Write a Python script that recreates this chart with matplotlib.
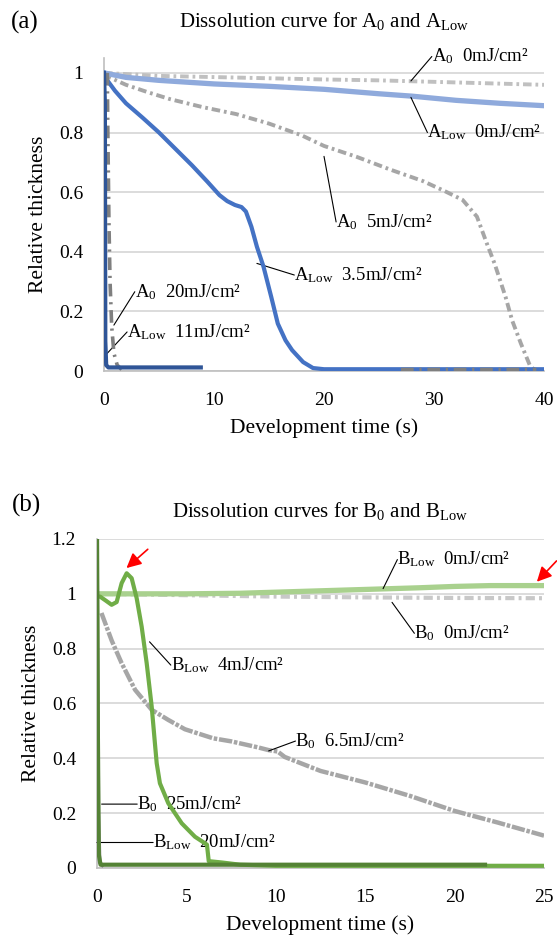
import numpy as np
import matplotlib
matplotlib.use('Agg')
from matplotlib import pyplot as plt

plt.rcParams['font.family'] = ['Liberation Serif', 'DejaVu Serif']
plt.rcParams['mathtext.fontset'] = 'custom'
plt.rcParams['mathtext.rm'] = 'Liberation Serif'
plt.rcParams['mathtext.it'] = 'Liberation Serif:italic'
plt.rcParams['mathtext.bf'] = 'Liberation Serif:bold'
plt.rcParams['mathtext.default'] = 'regular'

# ---- panel (a): A0 / ALow ----
a0_0_t = [0, 5, 10, 15, 20, 25, 30, 35, 40]
a0_0_v = [1.0, 0.99, 0.986, 0.982, 0.978, 0.975, 0.97, 0.965, 0.96]

alow_0_t = [0, 2, 5, 10, 15, 20, 25, 28, 32, 36, 40]
alow_0_v = [1.0, 0.985, 0.975, 0.963, 0.955, 0.945, 0.93, 0.922, 0.908, 0.898, 0.89]

a0_5_t = [0, 0.5, 2, 4, 6, 9, 12, 15, 18, 20, 23, 26, 29, 31, 32.6, 33.9, 34.8, 35.5,
          36.5, 37.1, 37.9, 38.7, 39.2, 40]
a0_5_v = [1.0, 0.985, 0.96, 0.935, 0.912, 0.885, 0.862, 0.83, 0.79, 0.755, 0.718, 0.676,
          0.637, 0.603, 0.574, 0.518, 0.428, 0.361, 0.249, 0.17, 0.092, 0.02, 0.0, 0.0]

a0_20_t = [0.3, 0.35, 0.45, 0.55, 0.7, 0.9, 1.2, 1.6, np.nan, 27, 33, 39.3]
a0_20_v = [1.0, 0.8, 0.5, 0.3, 0.15, 0.06, 0.02, 0.005, np.nan, 0.005, 0.005, 0.005]

alow_35_t = [0, 0.3, 1, 2, 3.5, 5, 6.5, 8, 9.4, 10.5, 11.2, 11.9, 12.5, 12.9, 13.4, 13.9,
             14.5, 15.2, 15.8, 16.5, 17.1, 18.1, 19.0, 20, 30, 40]
alow_35_v = [1.0, 0.975, 0.94, 0.898, 0.85, 0.8, 0.745, 0.69, 0.635, 0.59, 0.57, 0.557,
             0.55, 0.535, 0.484, 0.417, 0.35, 0.249, 0.159, 0.103, 0.07, 0.03, 0.01, 0.006,
             0.006, 0.006]

alow_11_t = [0, 0.08, 0.12, 0.2, 0.4, 3, 6, 8.8]
alow_11_v = [1.0, 0.9, 0.1, 0.02, 0.012, 0.012, 0.012, 0.012]

# ---- panel (b): B0 / BLow ----
blow_0_t = [0, 2, 5, 8, 10, 12, 15, 18, 20, 22, 25]
blow_0_v = [1.0, 1.0, 1.0, 1.002, 1.006, 1.01, 1.016, 1.022, 1.027, 1.03, 1.03]

b0_0_t = [0, 5, 10, 15, 20, 25]
b0_0_v = [1.0, 0.995, 0.99, 0.987, 0.985, 0.984]

b0_65_t = [0.25, 0.82, 1.38, 2.13, 3.06, 3.99, 4.92, 6.5, 7.5, 9.0, 9.6, 10.1, 10.5, 12.5,
           15, 17.5, 20, 22.4, 25]
b0_65_v = [0.93, 0.83, 0.747, 0.65, 0.577, 0.54, 0.506, 0.473, 0.462, 0.44, 0.43, 0.425,
           0.405, 0.354, 0.312, 0.263, 0.208, 0.166, 0.118]

blow_4_t = [0, 0.17, 0.5, 0.82, 1.1, 1.38, 1.66, 1.94, 2.22, 2.5, 2.78, 3.06, 3.24, 3.34,
            3.52, 3.99, 4.74, 5.48, 6.04, 6.15, 6.25, 7, 8, 10, 25]
blow_4_v = [0.99, 0.99, 0.975, 0.96, 0.97, 1.039, 1.075, 1.057, 0.984, 0.88, 0.747, 0.589,
            0.455, 0.382, 0.309, 0.236, 0.163, 0.114, 0.09, 0.085, 0.025, 0.02, 0.012,
            0.008, 0.008]

b0_25_t = [0, 0.03, 0.08, 0.15, 0.3]
b0_25_v = [1.2, 0.8, 0.2, 0.02, 0.01]

blow_20_t = [0, 0.02, 0.05, 0.1, 0.2, 3, 6, 10, 15, 21.7]
blow_20_v = [1.25, 1.0, 0.5, 0.05, 0.012, 0.012, 0.012, 0.012, 0.012, 0.012]

dashdot = (0, (2.2, 1.0, 0.7, 1.0))
grid_c = '#D9D9D9'


def style_axes(ax, xticks, yticks, ylabels):
    ax.set_xticks(xticks)
    ax.set_yticks(yticks)
    ax.set_yticklabels(ylabels)
    ax.tick_params(length=0, labelsize=14, pad=15)
    ax.yaxis.grid(True, color=grid_c, lw=1.3)
    ax.set_axisbelow(True)
    for s in ['top', 'right']:
        ax.spines[s].set_visible(False)
    for s in ['left', 'bottom']:
        ax.spines[s].set_color('#BFBFBF')
        ax.spines[s].set_linewidth(1.2)
    ax.set_xlabel('Development time (s)', fontsize=15.5, labelpad=7)
    ax.set_ylabel('Relative thickness', fontsize=15.5, labelpad=8)


def leader(ax, p, q, txt, ha='left'):
    ax.annotate('', xy=p, xytext=q, annotation_clip=False,
                arrowprops=dict(arrowstyle='-', color='black', lw=0.8, shrinkA=0, shrinkB=0))
    ax.text(q[0], q[1], txt, fontsize=13.5, ha=ha, va='center', clip_on=False)


fig = plt.figure(figsize=(5.57, 9.4), dpi=100)

# ---------------- (a) ----------------
ax = fig.add_axes([0.1867, 0.6053, 0.79, 0.333])
ax.plot(a0_0_t, a0_0_v, color='#C0C0C0', lw=2.8, ls=dashdot, zorder=2)
ax.plot(a0_5_t, a0_5_v, color='#A6A6A6', lw=2.8, ls=dashdot, zorder=2)
ax.plot(alow_0_t, alow_0_v, color='#8FAADC', lw=3.8, zorder=3)
ax.plot(alow_35_t, alow_35_v, color='#4472C4', lw=3.0, zorder=4)
ax.plot(a0_20_t, a0_20_v, color='#7F7F7F', lw=2.6, ls=(0, (3.5, 1.6, 0.6, 1.6)), zorder=5)
ax.plot(alow_11_t, alow_11_v, color='#2F5597', lw=3.0, zorder=6)
ax.set_xlim(0, 40)
ax.set_ylim(0, 1.05)
style_axes(ax, [0, 10, 20, 30, 40], [0, 0.2, 0.4, 0.6, 0.8, 1.0],
           ['0', '0.2', '0.4', '0.6', '0.8', '1'])
ax.set_title(r'Dissolution curve for A$_0$ and A$_{Low}$', fontsize=15, pad=22)

leader(ax, (27.9, 0.973), (29.8, 1.055), r'A$_0$  0mJ/cm²')
leader(ax, (27.9, 0.918), (29.4, 0.80), r'A$_{Low}$  0mJ/cm²')
leader(ax, (20.0, 0.72), (21.1, 0.50), r'A$_0$  5mJ/cm²')
leader(ax, (13.9, 0.361), (17.3, 0.322), r'A$_{Low}$  3.5mJ/cm²')
leader(ax, (0.9, 0.154), (2.8, 0.266), r'A$_0$  20mJ/cm²')
leader(ax, (0.26, 0.058), (2.1, 0.131), r'A$_{Low}$  11mJ/cm²')

fig.text(0.045, 0.976, '(a)', fontsize=18, ha='center', va='center')

# ---------------- (b) ----------------
ax = fig.add_axes([0.1741, 0.0766, 0.8026, 0.35])
ax.plot(b0_0_t, b0_0_v, color='#C8C8C8', lw=3.0, ls=dashdot, zorder=2)
ax.plot(blow_0_t, blow_0_v, color='#A9D18E', lw=3.8, zorder=3)
ax.plot(b0_65_t, b0_65_v, color='#A6A6A6', lw=3.2, ls=(0, (3.0, 0.4, 0.8, 0.4)), zorder=3)
ax.plot(b0_25_t, b0_25_v, color='#7F7F7F', lw=2.6, zorder=4)
ax.plot(blow_4_t, blow_4_v, color='#70AD47', lw=3.0, zorder=5)
ax.plot(blow_20_t, blow_20_v, color='#548235', lw=3.0, zorder=6)
ax.set_xlim(0, 25)
ax.set_ylim(0, 1.2)
style_axes(ax, [0, 5, 10, 15, 20, 25], [0, 0.2, 0.4, 0.6, 0.8, 1.0, 1.2],
           ['0', '0.2', '0.4', '0.6', '0.8', '1', '1.2'])
ax.set_title(r'Dissolution curves for B$_0$ and B$_{Low}$', fontsize=15, pad=16)

leader(ax, (16.0, 1.019), (16.8, 1.125), r'B$_{Low}$  0mJ/cm²')
leader(ax, (16.5, 0.969), (17.75, 0.856), r'B$_0$  0mJ/cm²')
leader(ax, (2.94, 0.825), (4.13, 0.74), r'B$_{Low}$  4mJ/cm²')
leader(ax, (9.6, 0.427), (11.1, 0.463), r'B$_0$  6.5mJ/cm²')
leader(ax, (0.26, 0.233), (2.25, 0.233), r'B$_0$  25mJ/cm²')
leader(ax, (0.0, 0.093), (3.14, 0.093), r'B$_{Low}$  20mJ/cm²')

for tip, tail in [((1.65, 1.094), (2.84, 1.1625)), ((24.6, 1.044), (25.7, 1.12))]:
    ax.annotate('', xy=tip, xytext=tail, annotation_clip=False,
                arrowprops=dict(arrowstyle='-|>', color='#FF0000', lw=1.2,
                                mutation_scale=22, shrinkA=0, shrinkB=0))

fig.text(0.048, 0.462, '(b)', fontsize=18, ha='center', va='center')

fig.savefig('out.png', dpi=100)
